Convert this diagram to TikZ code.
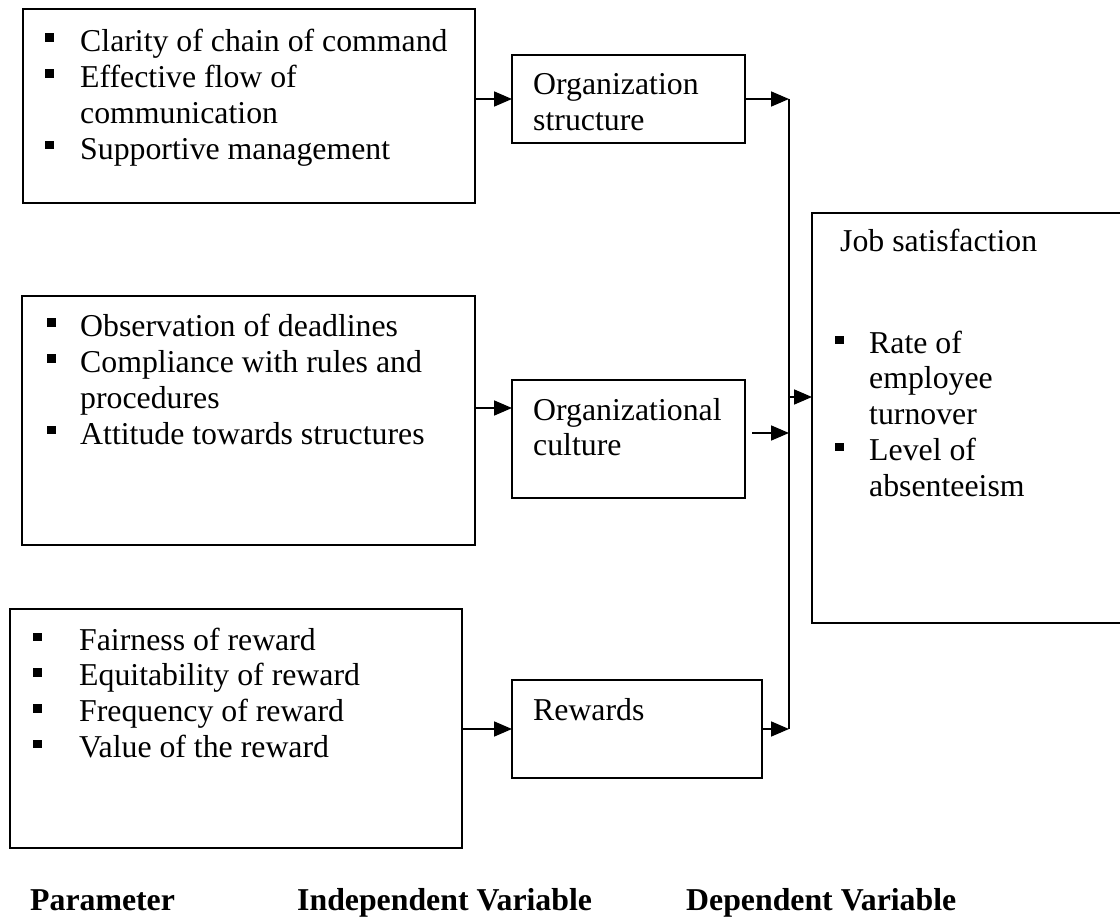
\documentclass[tikz,border=0pt]{standalone}
\usepackage{fontspec}
\setmainfont{Liberation Serif}
\usetikzlibrary{arrows.meta}
\newcommand{\bsq}[1]{\raisebox{#1}{\rule{8.5pt}{8.5pt}}}
\newcommand{\bitem}[3]{\makebox[#1][l]{\bsq{#2}}#3}
\newcommand{\tlines}[1]{\begin{tabular}[t]{@{}l@{}}#1\end{tabular}}
\begin{document}
\begin{tikzpicture}[x=1pt,y=-1pt,
  box/.style={draw, line width=1.6pt, inner sep=0pt, outer sep=0pt, anchor=north west},
  txt/.style={anchor=base west, inner sep=0pt, font=\fontsize{31.8}{35.8}\selectfont},
  lbl/.style={anchor=base west, inner sep=0pt, font=\fontsize{31.8}{35.8}\selectfont\bfseries},
  arr/.style={line width=1.8pt, -{Triangle[length=18pt 0 0,width=15pt 0 0]}},
  bus/.style={line width=1.8pt}]
\useasboundingbox[fill=white] (0,0) rectangle (1120,920);

% boxes
\node[box, minimum width=452pt, minimum height=194pt] (A1) at (23,9) {};
\node[box, minimum width=233pt, minimum height=88pt] (OS) at (512,55) {};
\node[box, minimum width=453pt, minimum height=249pt] (A2) at (22,296) {};
\node[box, minimum width=233pt, minimum height=118pt] (OC) at (512,380) {};
\node[box, minimum width=452pt, minimum height=239pt] (A3) at (10,609) {};
\node[box, minimum width=250pt, minimum height=98pt] (RW) at (512,680) {};
\node[box, minimum width=330pt, minimum height=410pt] (JS) at (812,213) {};

% texts
\node[txt] (tA1) at (45,52) {\tlines{\bitem{35pt}{10pt}{Clarity of chain of command}\\
  \bitem{35pt}{10pt}{Effective flow of}\\
  \hspace*{35pt}communication\\
  \bitem{35pt}{10pt}{Supportive management}}};
\node[txt] (tA2) at (47,337) {\tlines{\bitem{33pt}{10pt}{Observation of deadlines}\\
  \bitem{33pt}{10pt}{Compliance with rules and}\\
  \hspace*{33pt}procedures\\
  \bitem{33pt}{10pt}{Attitude towards structures}}};
\node[txt] (tA3) at (33,650) {\tlines{\bitem{46pt}{9pt}{Fairness of reward}\\
  \bitem{46pt}{9pt}{Equitability of reward}\\
  \bitem{46pt}{9pt}{Frequency of reward}\\
  \bitem{46pt}{9pt}{Value of the reward}}};
\node[txt] (tOS) at (533,95) {\tlines{Organization\\structure}};
\node[txt] (tOC) at (533,420) {\tlines{Organizational\\culture}};
\node[txt] (tRW) at (533,720) {Rewards};
\node[txt] (tJS) at (840,252) {Job satisfaction};
\node[txt] (tJSl) at (835,353) {\tlines{\bitem{34pt}{9pt}{Rate of}\\
  \hspace*{34pt}employee\\
  \hspace*{34pt}turnover\\
  \bitem{34pt}{9pt}{Level of}\\
  \hspace*{34pt}absenteeism}};

% bottom labels
\node[lbl] (pl) at (30,910) {Parameter};
\node[lbl] (ivl) at (297,910) {Independent Variable};
\node[lbl] (dvl) at (686,910) {Dependent Variable};

% connectors
\coordinate (bt) at (789,99);
\coordinate (bb) at (789,729);
\coordinate (y2) at (0,408);
\coordinate (c2) at (752,433);
\coordinate (jin) at (789,397);
\draw[bus] (bt) -- (bb);
\draw[arr] (A1.east |- OS.west) -- (OS.west);
\draw[arr] (OS.east) -- (bt);
\draw[arr] (A2.east |- y2) -- (OC.west |- y2);
\draw[arr] (c2) -- (bt |- c2);
\draw[arr] (jin) -- (JS.west |- jin);
\draw[arr] (A3.east |- RW.west) -- (RW.west);
\draw[arr] (RW.east) -- (bb);
\end{tikzpicture}
\end{document}
